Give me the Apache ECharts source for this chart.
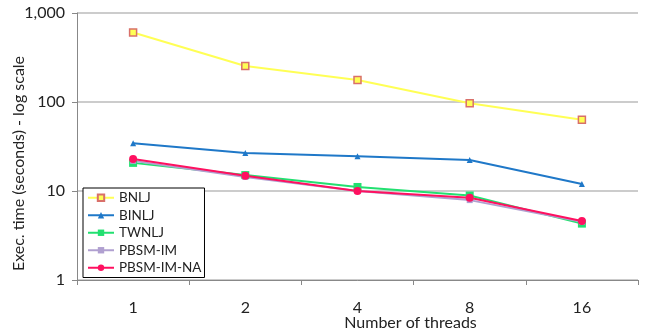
<!DOCTYPE html>
<html>
<head>
<meta charset="utf-8">
<script src="https://cdn.jsdelivr.net/npm/echarts@6/dist/echarts.min.js"></script>
<style>
html,body{margin:0;padding:0;background:#fff}
#main{width:646px;height:335px}
</style>
</head>
<body>
<div id="main"></div>
<script>
var threads = ['1', '2', '4', '8', '16'];
var bnlj = [605, 254, 177, 97, 63];
var binlj = [34.5, 26.8, 24.6, 22.3, 12];
var twnlj = [20.7, 15.1, 11.1, 8.9, 4.3];
var pbsmIm = [21.8, 14.4, 10, 7.9, 4.5];
var pbsmImNa = [22.9, 14.8, 10, 8.4, 4.6];

var font = 'Lato';

function line(name, data, color, symbol, size, border) {
  return {
    name: name,
    type: 'line',
    data: data,
    symbol: symbol,
    symbolSize: size,
    lineStyle: {color: color, width: 2},
    itemStyle: {color: color, borderColor: border || color, borderWidth: border ? 1.5 : 0},
    emphasis: {disabled: true}
  };
}

var chart = echarts.init(document.getElementById('main'));
chart.setOption({
  animation: false,
  grid: {left: 77, right: 8, top: 13, bottom: 55, outerBoundsMode: 'none', containLabel: false},
  legend: {
    orient: 'vertical',
    left: 83, top: 188,
    itemWidth: 26, itemHeight: 8, itemGap: 0,
    padding: [1, 3, 1, 4],
    borderColor: '#000', borderWidth: 1,
    backgroundColor: '#fff',
    textStyle: {fontFamily: font, fontSize: 13.5, color: '#222', lineHeight: 17.5},
    data: ['BNLJ', 'BINLJ', 'TWNLJ', 'PBSM-IM', 'PBSM-IM-NA']
  },
  xAxis: {
    type: 'category',
    data: threads,
    name: 'Number of threads',
    nameLocation: 'middle',
    nameGap: 35,
    nameMoveOverlap: false,
    nameTextStyle: {fontFamily: font, fontSize: 16, color: '#222', padding: [0, 0, 0, 106]},
    axisLine: {lineStyle: {color: '#888'}},
    axisTick: {show: true, length: 5, lineStyle: {color: '#888'}},
    axisLabel: {fontFamily: font, fontSize: 16, color: '#222', margin: 20}
  },
  yAxis: {
    type: 'log',
    min: 1, max: 1000,
    logBase: 10,
    name: 'Exec. time (seconds) - log scale',
    nameLocation: 'middle',
    nameGap: 50,
    nameMoveOverlap: false,
    nameTextStyle: {fontFamily: font, fontSize: 16, color: '#222', padding: [0, 34, 0, 0]},
    axisLine: {show: true, lineStyle: {color: '#888'}},
    axisTick: {show: true, length: 5, inside: false, lineStyle: {color: '#888'}},
    minorTick: {show: false},
    splitLine: {lineStyle: {color: '#bbb', width: 1.5}},
    axisLabel: {
      fontFamily: font, fontSize: 16, color: '#222', margin: 12,
      formatter: function (v) { return v >= 1000 ? '1,000' : String(v); }
    }
  },
  series: [
    line('BNLJ', bnlj, '#ffff55', 'rect', 7, '#d9706a'),
    line('BINLJ', binlj, '#1f78c8', 'triangle', 6),
    line('TWNLJ', twnlj, '#22e070', 'rect', 8),
    line('PBSM-IM', pbsmIm, '#b0a0d0', 'rect', 6),
    line('PBSM-IM-NA', pbsmImNa, '#ff1060', 'circle', 8)
  ]
});
</script>
</body>
</html>
